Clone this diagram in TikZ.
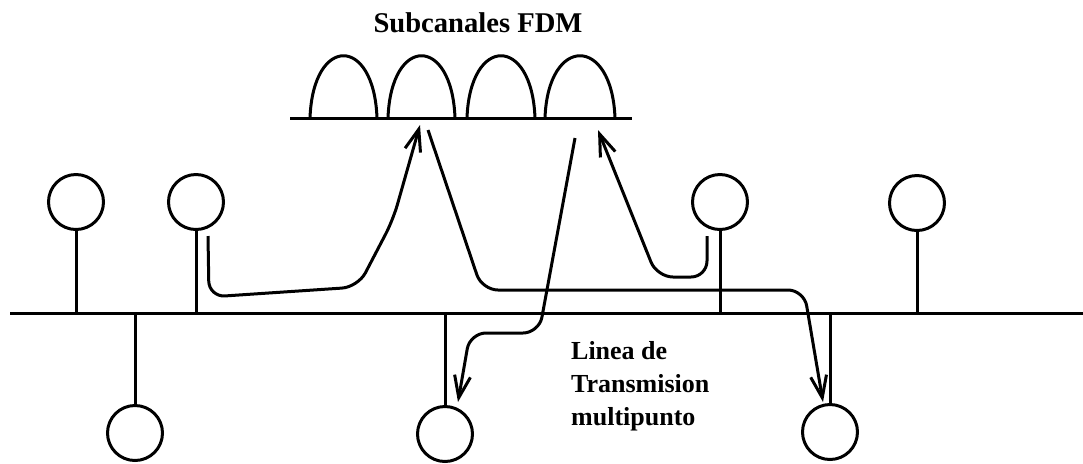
\documentclass[tikz,border=0pt]{standalone}
\usepackage{fontspec}
\setmainfont{Liberation Serif}
\usetikzlibrary{arrows.meta}

\begin{document}
\begin{tikzpicture}[x=0.5pt,y=-0.5pt,line width=1.5pt,
   >={Straight Barb[length=11pt,width=8pt]},
   estacion/.style={circle,draw,minimum size=27.5pt,inner sep=0pt},
   rotulo/.style={font=\bfseries\fontsize{13}{16.5}\selectfont,align=left}]

  \useasboundingbox (0,0) rectangle (1083,463);

  % linea de transmision
  \coordinate (bus) at (10,313);
  \coordinate (busfin) at (1083,313);
  \draw (bus) -- (busfin);

  % estaciones
  \node[estacion](e1) at (76,202) {};
  \node[estacion](e2) at (196,202) {};
  \node[estacion](e3) at (720,202) {};
  \node[estacion](e4) at (917,203) {};
  \node[estacion](e5) at (135,433) {};
  \node[estacion](e6) at (445,434) {};
  \node[estacion](e7) at (830,432) {};

  \foreach \e in {e1,e2,e3,e4,e5,e6,e7} \draw (\e) -- (\e |- bus);

  % subcanales FDM
  \coordinate (fdmi) at (290,118);
  \coordinate (fdmd) at (632,118);
  \draw (fdmi) -- (fdmd);
  \foreach \a/\b in {310/377,388/455,467/535,545/615}
    \draw (\a,118) .. controls (\a+3,35) and (\b-3,35) .. (\b,118);
  \node[rotulo,font=\bfseries\fontsize{14.3}{17}\selectfont](titulo) at (478,23) {Subcanales FDM};
  \node[rotulo,anchor=north west](linea) at (563,333) {Linea de\\Transmision\\multipunto};

  % extremos de las flechas
  \coordinate (f1) at (420,125);
  \coordinate (f2) at (428,130);
  \coordinate (f3) at (575,138);
  \coordinate (f4) at (598,130);
  \coordinate (s2) at (208,236);
  \coordinate (s3) at (707,236);
  \coordinate (b2) at (458,402);
  \coordinate (b3) at (823,402);

  \draw[->,rounded corners=8pt] (s2) -- (209,297) -- (358,287) -- (393,220) -- (f1);
  \draw[->,rounded corners=8pt] (f2) -- (482,290) -- (804,290) -- (b3);
  \draw[->,rounded corners=8pt] (f3) -- (539,333) -- (470,333) -- (b2);
  \draw[->,rounded corners=8pt] (s3) -- (707,277) -- (657,277) -- (f4);
\end{tikzpicture}
\end{document}
